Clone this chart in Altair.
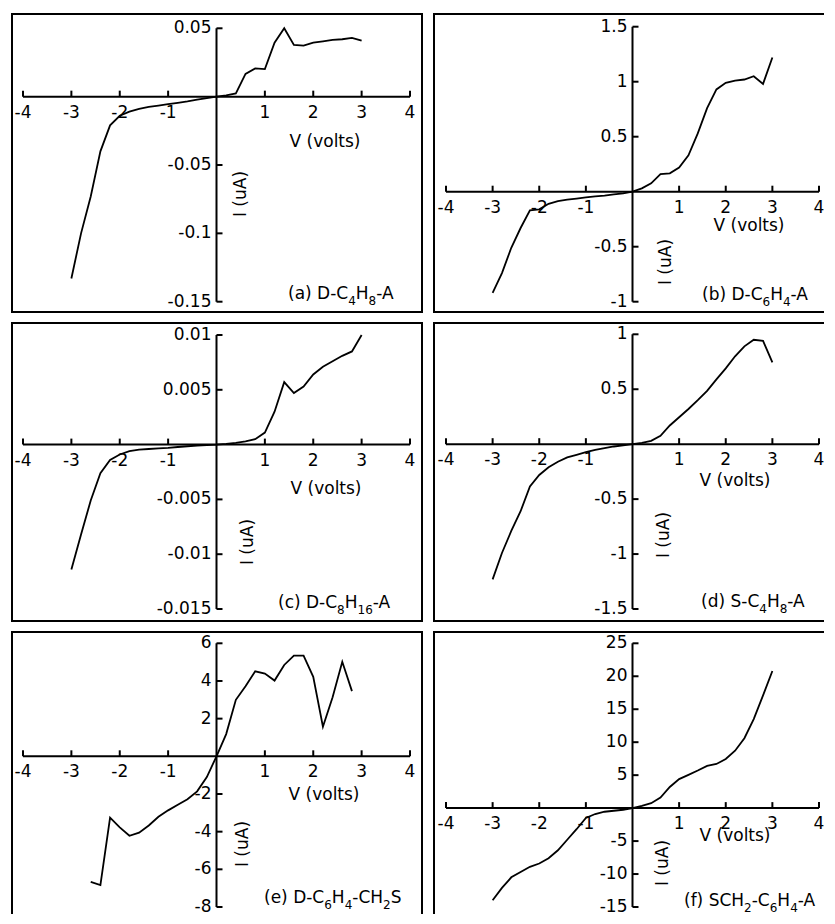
import altair as alt
import pandas as pd

# ---------------- data ----------------
V_full = [-3.0, -2.8, -2.6, -2.4, -2.2, -2.0, -1.8, -1.6, -1.4, -1.2, -1.0, -0.8, -0.6, -0.4, -0.2,
          0.0, 0.2, 0.4, 0.6, 0.8, 1.0, 1.2, 1.4, 1.6, 1.8, 2.0, 2.2, 2.4, 2.6, 2.8, 3.0]
V_e = [-2.6, -2.4, -2.2, -2.0, -1.8, -1.6, -1.4, -1.2, -1.0, -0.8, -0.6, -0.4, -0.2,
       0.0, 0.2, 0.4, 0.6, 0.8, 1.0, 1.2, 1.4, 1.6, 1.8, 2.0, 2.2, 2.4, 2.6, 2.8]

I_a = [-0.133, -0.100, -0.073, -0.040, -0.021, -0.014, -0.011, -0.009, -0.0075, -0.0065, -0.0055,
       -0.0045, -0.0035, -0.0022, -0.001, 0.0, 0.001, 0.0024, 0.0166, 0.0207, 0.0202, 0.0395, 0.050,
       0.0378, 0.0373, 0.0395, 0.0405, 0.0415, 0.042, 0.043, 0.041]
I_b = [-0.92, -0.74, -0.51, -0.33, -0.17, -0.16, -0.11, -0.085, -0.073, -0.062, -0.052, -0.043,
       -0.035, -0.025, -0.015, 0.0, 0.03, 0.076, 0.16, 0.167, 0.22, 0.33, 0.53, 0.76, 0.93, 0.99,
       1.01, 1.02, 1.05, 0.98, 1.22]
I_c = [-0.0114, -0.0082, -0.0051, -0.0026, -0.0014, -0.0009, -0.0006, -0.00045, -0.0004, -0.00035,
       -0.0003, -0.00022, -0.00015, -0.0001, -0.00004, 0.0, 0.00006, 0.00015, 0.0003, 0.0005, 0.0011,
       0.003, 0.0057, 0.0047, 0.0053, 0.0064, 0.0071, 0.0076, 0.0081, 0.0085, 0.0100]
I_d = [-1.23, -0.99, -0.79, -0.61, -0.385, -0.28, -0.21, -0.16, -0.12, -0.097, -0.073, -0.052,
       -0.036, -0.021, -0.01, 0.0, 0.012, 0.03, 0.076, 0.17, 0.245, 0.32, 0.40, 0.485, 0.59, 0.69,
       0.80, 0.89, 0.95, 0.94, 0.745]
I_e = [-6.67, -6.84, -3.26, -3.77, -4.22, -4.05, -3.67, -3.21, -2.87, -2.57, -2.28, -1.86, -1.10,
       0.0, 1.18, 3.0, 3.72, 4.51, 4.39, 4.02, 4.85, 5.35, 5.35, 4.22, 1.57, 3.13, 5.02, 3.46]
I_f = [-13.97, -12.1, -10.5, -9.7, -8.9, -8.4, -7.6, -6.4, -4.8, -3.2, -1.5, -0.9, -0.55, -0.4,
       -0.25, 0.0, 0.35, 0.75, 1.6, 3.2, 4.4, 5.05, 5.7, 6.4, 6.7, 7.45, 8.7, 10.6, 13.5, 17.1, 20.8]

x_ticks = [-4, -3, -2, -1, 1, 2, 3, 4]
x_tick_labels = ["-4", "-3", "-2", "-1", "1", "2", "3", "4"]

yt_a = [0.05, -0.05, -0.1, -0.15]
yl_a = ["0.05", "-0.05", "-0.1", "-0.15"]
yt_b = [1.5, 1.0, 0.5, -0.5, -1.0]
yl_b = ["1.5", "1", "0.5", "-0.5", "-1"]
yt_c = [0.01, 0.005, -0.005, -0.01, -0.015]
yl_c = ["0.01", "0.005", "-0.005", "-0.01", "-0.015"]
yt_d = [1.0, 0.5, -0.5, -1.0, -1.5]
yl_d = ["1", "0.5", "-0.5", "-1", "-1.5"]
yt_e = [6, 4, 2, -2, -4, -6, -8]
yl_e = ["6", "4", "2", "-2", "-4", "-6", "-8"]
yt_f = [25, 20, 15, 10, 5, -5, -10, -15]
yl_f = ["25", "20", "15", "10", "5", "-5", "-10", "-15"]

# label parts: (text, is_subscript)
lab_a = [("(a) D-C", 0), ("4", 1), ("H", 0), ("8", 1), ("-A", 0)]
lab_b = [("(b) D-C", 0), ("6", 1), ("H", 0), ("4", 1), (" -A", 0)]
lab_c = [("(c) D-C", 0), ("8", 1), ("H", 0), ("16", 1), ("-A", 0)]
lab_d = [("(d) S-C", 0), ("4", 1), ("H", 0), ("8", 1), ("-A", 0)]
lab_e = [("(e) D-C", 0), ("6", 1), ("H", 0), ("4", 1), ("-CH", 0), ("2", 1), ("S", 0)]
lab_f = [("(f) SCH", 0), ("2", 1), ("-C", 0), ("6", 1), ("H", 0), ("4", 1), ("-A", 0)]

XTITLE = "V (volts)"
YTITLE = "I (uA)"

# ---------------- layout / style ----------------
FONT = "DejaVu Sans"
FS = 17
FS_SUB = 12
EM = {' ': 0.318, '(': 0.390, ')': 0.390, '-': 0.361, 'a': 0.613, 'b': 0.635, 'c': 0.550,
      'd': 0.635, 'e': 0.615, 'f': 0.352, 'A': 0.684, 'C': 0.698, 'D': 0.770, 'H': 0.752,
      'S': 0.635}
ONE = pd.DataFrame({"k": [0]})


def text_w(s, fs):
    return sum(EM.get(ch, 0.636) for ch in s) * fs


def const_text(txt, px, py, **kw):
    return alt.Chart(pd.DataFrame({"s": [txt]})).mark_text(
        font=FONT, color="black", **kw
    ).encode(x=alt.value(px), y=alt.value(py), text="s:N")


def border(**enc):
    return alt.Chart(ONE).mark_rule(color="black", strokeWidth=2, strokeCap="square").encode(
        **{k: alt.value(v) for k, v in enc.items()})


def panel(V, I, yt, yl, T, a, B, b, W, H, xl, x4, right, bottom,
          parts, lab_x, lab_base, vpos, ipos):
    kx = (x4 - xl) / 8.0
    xs = alt.Scale(domain=[-4 - xl / kx, 4 + (W - x4) / kx], nice=False, zero=False)
    ky = (b - a) / (T - B)
    ys = alt.Scale(domain=[B - (H - b) / ky, T + a / ky], nice=False, zero=False)

    X = lambda f: alt.X(f, scale=xs, axis=None, title=None)
    Y = lambda f: alt.Y(f, scale=ys, axis=None, title=None)

    curve = alt.Chart(pd.DataFrame({"V": V, "I": I})).mark_line(
        color="black", strokeWidth=1.8, clip=False
    ).encode(x=X("V:Q"), y=Y("I:Q"), order="V:Q")

    xaxis = alt.Chart(pd.DataFrame({"x": [-4], "x2": [4], "y": [0]})).mark_rule(
        color="black", strokeWidth=2
    ).encode(x=X("x:Q"), x2="x2:Q", y=Y("y:Q"))
    yaxis = alt.Chart(pd.DataFrame({"x": [0], "y": [B], "y2": [T]})).mark_rule(
        color="black", strokeWidth=2
    ).encode(x=X("x:Q"), y=Y("y:Q"), y2="y2:Q")

    xt_df = pd.DataFrame({"t": x_ticks, "lab": x_tick_labels, "z": [0] * len(x_ticks)})
    xticks = alt.Chart(xt_df).mark_rule(color="black", strokeWidth=2, y2Offset=-6).encode(
        x=X("t:Q"), y=Y("z:Q"), y2="z:Q")
    xlabels = alt.Chart(xt_df).mark_text(
        font=FONT, fontSize=FS, color="black", baseline="middle", align="center", dy=16
    ).encode(x=X("t:Q"), y=Y("z:Q"), text="lab:N")

    yt_df = pd.DataFrame({"t": yt, "lab": yl, "z": [0] * len(yt)})
    yticks = alt.Chart(yt_df).mark_rule(color="black", strokeWidth=2, x2Offset=6).encode(
        y=Y("t:Q"), x=X("z:Q"), x2="z:Q")
    ylabels = alt.Chart(yt_df).mark_text(
        font=FONT, fontSize=FS, color="black", baseline="middle", align="right", dx=-5
    ).encode(x=X("z:Q"), y=Y("t:Q"), text="lab:N")

    layers = [
        border(x=0, y=0, y2=H),
        border(x=0, x2=W, y=0),
    ]
    if right:
        layers.append(border(x=W, y=0, y2=H))
    if bottom:
        layers.append(border(x=0, x2=W, y=H))

    layers += [xaxis, yaxis, xticks, yticks, xlabels, ylabels, curve]
    layers.append(const_text(XTITLE, vpos[0], vpos[1], fontSize=FS, align="center", baseline="middle"))
    layers.append(const_text(YTITLE, ipos[0], ipos[1], fontSize=FS, align="center",
                             baseline="middle", angle=270))

    cx = lab_x
    for s, sub in parts:
        fs = FS_SUB if sub else FS
        py = lab_base + (6 if sub else 0)
        layers.append(const_text(s, cx, py, fontSize=fs, align="left", baseline="alphabetic"))
        cx += text_w(s, fs)

    return alt.layer(*layers).properties(width=W, height=H)


WL, WR = 410, 389
H12, H3 = 298, 281
XL4, XR4 = 398, 385

pa = panel(V_full, I_a, yt_a, yl_a, 0.05, 14.3, -0.15, 287.7, WL, H12, 11, XL4, True, True,
           lab_a, 276, 285, (313, 128), (229, 180))
pb = panel(V_full, I_b, yt_b, yl_b, 1.5, 12.7, -1.0, 287.7, WR, H12, 12, XR4, False, True,
           lab_b, 268, 286, (315, 212), (232, 248))
pc = panel(V_full, I_c, yt_c, yl_c, 0.01, 12.0, -0.015, 286.0, WL, H12, 11, XL4, True, True,
           lab_c, 266, 285, (314, 166), (236, 219))
pd_ = panel(V_full, I_d, yt_d, yl_d, 1.0, 11.3, -1.5, 286.0, WR, H12, 12, XR4, False, True,
            lab_d, 267, 284, (301, 158), (230, 212))
pe = panel(V_e, I_e, yt_e, yl_e, 6, 11.3, -8, 275.0, WL, H3, 11, XL4, True, False,
           lab_e, 252, 271, (312, 163), (231, 212))
pf = panel(V_full, I_f, yt_f, yl_f, 25, 11.3, -15, 275.0, WR, H3, 12, XR4, False, False,
           lab_f, 250, 274, (301, 204), (229, 231))

chart = alt.vconcat(
    alt.hconcat(pa, pb, spacing=12, bounds="flush"),
    alt.hconcat(pc, pd_, spacing=12, bounds="flush"),
    alt.hconcat(pe, pf, spacing=12, bounds="flush"),
    spacing=7,
).properties(
    padding={"left": 2, "top": 4, "right": 0, "bottom": 0}
).configure_view(strokeWidth=0)

chart.save("out.html", embed_options={"renderer": "svg", "actions": False})
